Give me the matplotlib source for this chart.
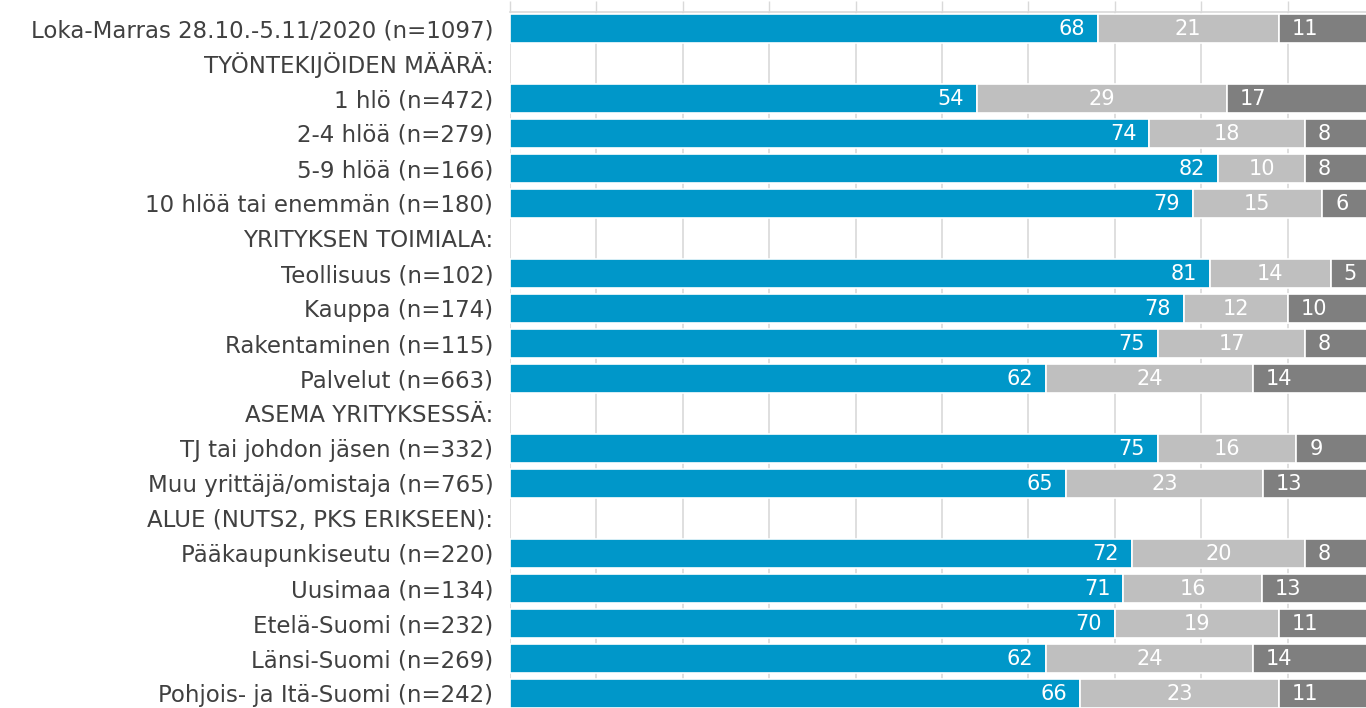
import matplotlib
matplotlib.use("Agg")
import matplotlib.pyplot as plt
import numpy as np

labels = [
    "Loka-Marras 28.10.-5.11/2020 (n=1097)",
    "TYÖNTEKIJÖIDEN MÄÄRÄ:",
    "1 hlö (n=472)",
    "2-4 hlöä (n=279)",
    "5-9 hlöä (n=166)",
    "10 hlöä tai enemmän (n=180)",
    "YRITYKSEN TOIMIALA:",
    "Teollisuus (n=102)",
    "Kauppa (n=174)",
    "Rakentaminen (n=115)",
    "Palvelut (n=663)",
    "ASEMA YRITYKSESSÄ:",
    "TJ tai johdon jäsen (n=332)",
    "Muu yrittäjä/omistaja (n=765)",
    "ALUE (NUTS2, PKS ERIKSEEN):",
    "Pääkaupunkiseutu (n=220)",
    "Uusimaa (n=134)",
    "Etelä-Suomi (n=232)",
    "Länsi-Suomi (n=269)",
    "Pohjois- ja Itä-Suomi (n=242)",
]
# None = header row without bar
series_a = [68, None, 54, 74, 82, 79, None, 81, 78, 75, 62, None, 75, 65, None, 72, 71, 70, 62, 66]
series_b = [21, None, 29, 18, 10, 15, None, 14, 12, 17, 24, None, 16, 23, None, 20, 16, 19, 24, 23]
series_c = [11, None, 17, 8, 8, 6, None, 5, 10, 8, 14, None, 9, 13, None, 8, 13, 11, 14, 11]

colors = ["#0097C9", "#BFBFBF", "#7F7F7F"]

W, H = 13.66, 7.08
fig = plt.figure(figsize=(W, H), dpi=100)
ax_left = 510 / 1366
ax_right = 1374 / 1366
ax_top = 1 - 12 / 708
ax = fig.add_axes([ax_left, 0, ax_right - ax_left, ax_top])

n = len(labels)
y = np.arange(n)
row_h = 35
top_off = 16 / row_h
ax.set_ylim((708 - 28) / row_h, -top_off)
ax.set_xlim(0, 100)

bar_h = 29 / row_h
pad_data = 13 / 864 * 100
fs_lab = 16.5
fs_num = 15

for i in range(n):
    if series_a[i] is None:
        continue
    vals = [series_a[i], series_b[i], series_c[i]]
    tot = sum(vals)
    norm = [v / tot * 100 for v in vals]
    left = 0
    for k, (v, nv) in enumerate(zip(vals, norm)):
        ax.barh(i, nv, left=left, height=bar_h, color=colors[k],
                edgecolor="white", linewidth=1.2, zorder=3)
        if k == 0:
            ax.text(left + nv - pad_data, i + 0.02, str(v), ha="right", va="center",
                    color="white", fontsize=fs_num, zorder=4)
        elif k == 1:
            ax.text(left + nv / 2, i + 0.02, str(v), ha="center", va="center",
                    color="white", fontsize=fs_num, zorder=4)
        else:
            ax.text(left + pad_data, i + 0.02, str(v), ha="left", va="center",
                    color="white", fontsize=fs_num, zorder=4)
        left += nv

ax.set_yticks(y)
ax.set_yticklabels(labels, fontsize=fs_lab, color="#404040")
ax.tick_params(axis="y", length=0, pad=12)

ax.xaxis.tick_top()
ax.set_xticks(np.arange(0, 101, 10))
ax.set_xticklabels([])
ax.tick_params(axis="x", direction="out", length=8, color="#D9D9D9", width=1)
ax.grid(axis="x", color="#D9D9D9", linewidth=1.2, zorder=0)
ax.set_axisbelow(True)

for s in ["right", "bottom", "left"]:
    ax.spines[s].set_visible(False)
ax.spines["top"].set_color("#D9D9D9")
ax.spines["top"].set_linewidth(1.2)

fig.savefig("out.png", dpi=100)
